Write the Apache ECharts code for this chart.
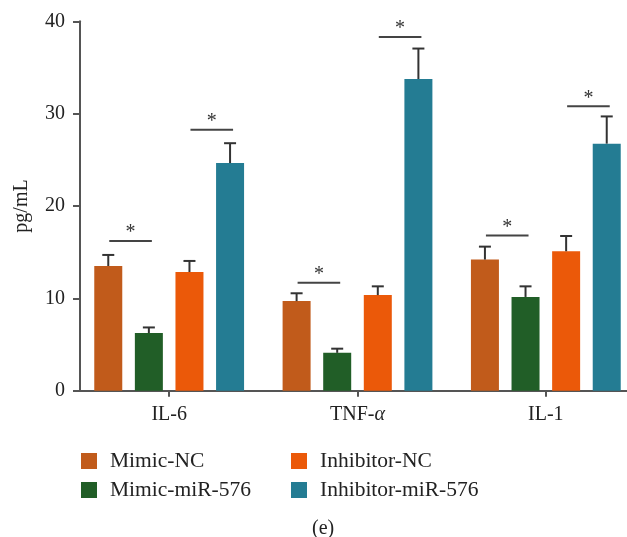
<!DOCTYPE html>
<html>
<head>
<meta charset="utf-8">
<script src="https://cdn.jsdelivr.net/npm/echarts@6/dist/echarts.min.js"></script>
<style>html,body{margin:0;padding:0;background:#fff;}#c{width:627px;height:537px;}</style>
</head>
<body>
<div id="c"></div>
<script>
const categories = ['IL-6', 'TNF-α', 'IL-1'];
const seriesNames = ['Mimic-NC', 'Mimic-miR-576', 'Inhibitor-NC', 'Inhibitor-miR-576'];
const mimicNC = [13.5, 9.7, 14.2];
const mimicNCErr = [1.2, 0.85, 1.4];
const mimicMiR = [6.25, 4.1, 10.15];
const mimicMiRErr = [0.6, 0.45, 1.15];
const inhibNC = [12.85, 10.35, 15.1];
const inhibNCErr = [1.2, 0.95, 1.65];
const inhibMiR = [24.65, 33.75, 26.75];
const inhibMiRErr = [2.15, 3.3, 2.95];
// significance: [categoryIndex, seriesA, seriesB, lineValue]
const sigPairs = [[0, 0, 1, 16.2], [0, 2, 3, 28.25], [1, 0, 1, 11.7], [1, 2, 3, 38.3], [2, 0, 1, 16.8], [2, 2, 3, 30.8]];
const yTicks = [0, 10, 20, 30, 40];

const colors = ['#C15B1B', '#215E27', '#EB5909', '#247C93'];
const values = [mimicNC, mimicMiR, inhibNC, inhibMiR];
const errs = [mimicNCErr, mimicMiRErr, inhibNCErr, inhibMiRErr];
const FONT = '"Liberation Serif", "DejaVu Serif", serif';
const BAR_W = 28, GAP = 0.45, PITCH = BAR_W * (1 + GAP);

const errData = [];
values.forEach((arr, s) => arr.forEach((v, c) => errData.push([c, s, v, errs[s][c]])));

const chart = echarts.init(document.getElementById('c'), null, {renderer: 'canvas'});
const barSeries = seriesNames.map((n, s) => ({
  name: n, type: 'bar', data: values[s], barWidth: BAR_W, barGap: (GAP * 100) + '%',
  itemStyle: {color: colors[s]}, z: 2
}));
const legendCommon = {orient: 'vertical', top: 450, padding: 0, itemGap: 7, itemWidth: 16, itemHeight: 16, icon: 'rect',
  textStyle: {fontFamily: FONT, fontSize: 21.5, color: '#222', padding: [0, 0, 0, 8]}};
chart.setOption({
  animation: false,
  backgroundColor: '#fff',
  grid: {left: 75, top: 21.3, width: 565, height: 369.4, containLabel: false, outerBoundsMode: 'none'},
  title: {text: '(e)', left: 312, top: 519, padding: 0, textStyle: {fontFamily: FONT, fontSize: 20, fontWeight: 'normal', color: '#222'}},
  legend: [
    Object.assign({data: ['Mimic-NC', 'Mimic-miR-576'], left: 81}, legendCommon),
    Object.assign({data: ['Inhibitor-NC', 'Inhibitor-miR-576'], left: 291}, legendCommon)
  ],
  xAxis: {
    type: 'category', data: categories,
    axisLine: {lineStyle: {color: '#555', width: 2}},
    axisTick: {show: true, alignWithLabel: true, length: 6, lineStyle: {color: '#555', width: 2}},
    axisLabel: {
      margin: 14, fontFamily: FONT, fontSize: 20, color: '#222',
      formatter: v => v.replace('α', '{a|α}'),
      rich: {a: {fontFamily: FONT, fontSize: 20, fontStyle: 'italic', color: '#222'}}
    }
  },
  yAxis: {
    type: 'value', min: yTicks[0], max: yTicks[yTicks.length - 1], interval: 10, offset: -5,
    name: 'pg/mL', nameLocation: 'middle', nameGap: 48,
    nameTextStyle: {fontFamily: FONT, fontSize: 20, color: '#222'},
    axisLine: {show: true, lineStyle: {color: '#555', width: 2}},
    axisTick: {show: true, length: 7, lineStyle: {color: '#555', width: 2}},
    axisLabel: {margin: 15, fontFamily: FONT, fontSize: 20, color: '#222'},
    splitLine: {show: false}
  },
  series: barSeries.concat([
    {
      type: 'custom', name: 'err', data: errData, z: 3, silent: true,
      renderItem: (params, api) => {
        const c = api.value(0), s = api.value(1), v = api.value(2), e = api.value(3);
        const b = api.coord([c, v]), t = api.coord([c, v + e]);
        const x = b[0] + (s - 1.5) * PITCH;
        const st = {stroke: '#333', lineWidth: 2};
        return {type: 'group', children: [
          {type: 'line', shape: {x1: x, y1: b[1], x2: x, y2: t[1]}, style: st},
          {type: 'line', shape: {x1: x - 6, y1: t[1], x2: x + 6, y2: t[1]}, style: st}
        ]};
      }
    },
    {
      type: 'custom', name: 'sig', data: sigPairs, z: 3, silent: true,
      renderItem: (params, api) => {
        const c = api.value(0), a = api.value(1), b = api.value(2), y = api.value(3);
        const p = api.coord([c, y]);
        const x1 = p[0] + (a - 1.5) * PITCH + 1, x2 = p[0] + (b - 1.5) * PITCH + 3;
        return {type: 'group', children: [
          {type: 'line', shape: {x1: x1, y1: p[1], x2: x2, y2: p[1]}, style: {stroke: '#444', lineWidth: 2}},
          {type: 'text', style: {text: '*', x: (x1 + x2) / 2, y: p[1] - 8, textAlign: 'center', textVerticalAlign: 'middle',
            font: '20px ' + FONT, fill: '#333'}}
        ]};
      }
    }
  ])
});
</script>
</body>
</html>
